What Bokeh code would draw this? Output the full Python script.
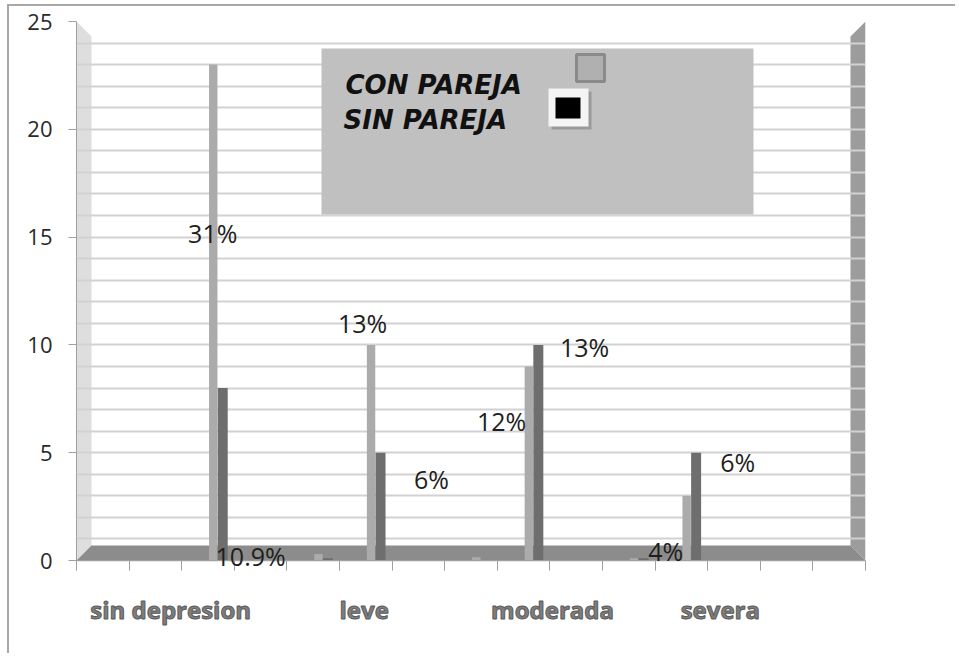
from bokeh.plotting import figure
from bokeh.models import (Range1d, FixedTicker, ColumnDataSource, Label, Span)
from bokeh.core.properties import value
from bokeh.embed import file_html
from bokeh.resources import INLINE

# ---------------- data ----------------
slots = list(range(15))                      # category slots on the depth axis
con_pareja = [0, 0, 23, 0, 0.3, 10, 0, 0.15, 9, 0, 0.1, 3, 0, 0, 0]
sin_pareja = [0, 0, 8, 0, 0.1, 5, 0, 0.0, 10, 0, 0.1, 5, 0, 0, 0]
category_names = ["sin depresion", "leve", "moderada", "severa"]
category_pos = [1.79, 5.47, 9.05, 12.24]
pct_text = ["31%", "13%", "10.9%", "6%", "12%", "13%", "4%", "6%"]
pct_x = [2.59, 5.44, 3.31, 6.75, 8.08, 9.66, 11.20, 12.57]
pct_y = [15.2, 11.0, 0.23, 3.76, 6.45, 9.88, 0.46, 4.55]
y_ticks = [0, 5, 10, 15, 20, 25]

# ---------------- geometry ----------------
OFFX, OFFY = 9, 6          # css margin + border in front of the canvas
W, H = 948, 649
LEFT, TOP = 76 - OFFX, 21 - OFFY
EXTRA = 7                  # frame overhang below zero so labels near 0 are not cut
FW, FH = 789, 539 + EXTRA
X0, Y0 = 76, 560  # page px of data origin
PXU = FW / 15.0
PYU = 539 / 25.0

def dx(px):
    return (px - X0) / PXU

def dy(py):
    return (Y0 - py) / PYU

p = figure(width=W, height=H, output_backend="svg", toolbar_location=None,
           x_range=Range1d(0, 15), y_range=Range1d(-EXTRA / PYU, 25),
           min_border_left=LEFT, min_border_top=TOP,
           min_border_right=W - LEFT - FW, min_border_bottom=H - TOP - FH)
p.outline_line_color = None
p.background_fill_color = "white"
p.border_fill_color = "white"
p.styles = {"margin-left": "7px", "margin-top": "4px",
            "border-left": "2px solid #a8a8a8", "border-top": "2px solid #a8a8a8"}

# walls (below grid)
p.patch([dx(76), dx(91), dx(91), dx(76)], [dy(21), dy(36), dy(545), dy(560)],
        fill_color="#dedede", line_color=None, level="image")
p.patch([dx(850), dx(865), dx(865), dx(850)], [dy(36), dy(21), dy(560), dy(545)],
        fill_color="#9c9c9c", line_color=None, level="image")

# grid
p.xgrid.grid_line_color = None
p.ygrid.ticker = FixedTicker(ticks=list(range(0, 26)))
p.ygrid.grid_line_color = "#d2d2d2"
p.ygrid.grid_line_width = 2

# floor
p.patch([dx(76), dx(91), dx(850), dx(865)], [dy(560), dy(545), dy(545), dy(560)],
        fill_color="#8c8c8c", line_color=None)
# base line at zero (category axis line)
p.add_layout(Span(location=0, dimension="width", line_color="#a0a0a0", line_width=1))

# bars
src = ColumnDataSource(dict(
    xc=[s + 0.60 for s in slots], xs=[s + 0.78 for s in slots],
    con=con_pareja, sin=sin_pareja))
p.vbar(x="xc", top="con", width=0.16, source=src, fill_color="#ababab", line_color=None)
p.vbar(x="xs", top="sin", width=0.19, source=src, fill_color="#6e6e6e", line_color=None)

# legend (drawn manually to mimic the original)
p.quad(left=[dx(321)], right=[dx(753)], bottom=[dy(214)], top=[dy(48)],
       fill_color="#c0c0c0", line_color=None)
p.text(x=[dx(345), dx(343)], y=[dy(84), dy(119)], text=["CON PAREJA", "SIN PAREJA"],
       text_font=value("DejaVu Sans"), text_font_style="bold italic",
       text_font_size="26px", text_color="#111111", text_align="left",
       text_baseline="alphabetic")
p.quad(left=[dx(576)], right=[dx(604)], bottom=[dy(81)], top=[dy(54)],
       fill_color="#b0b0b0", line_color="#8a8a8a", line_width=3)
p.quad(left=[dx(551)], right=[dx(591)], bottom=[dy(129)], top=[dy(91)],
       fill_color="#9a9a9a", line_color=None)
p.quad(left=[dx(548)], right=[dx(588)], bottom=[dy(126)], top=[dy(88)],
       fill_color="#f4f4f4", line_color=None)
p.quad(left=[dx(555)], right=[dx(580)], bottom=[dy(118)], top=[dy(97)],
       fill_color="#000000", line_color=None)

# data labels
for t, x, y in zip(pct_text, pct_x, pct_y):
    p.add_layout(Label(x=x, y=y, text=t, text_font="Open Sans",
                       text_font_size="25px", text_color="#1e1e1e", text_align="center",
                       text_baseline="middle"))

# y axis
ya = p.yaxis[0]
ya.ticker = FixedTicker(ticks=y_ticks)
ya.axis_line_color = "#a0a0a0"
ya.major_tick_line_color = "#a0a0a0"
ya.major_tick_out = 8
ya.major_tick_in = 0
ya.minor_tick_line_color = None
ya.major_label_text_font = "Open Sans"
ya.major_label_text_font_size = "22px"
ya.major_label_text_color = "#2a2a2a"
ya.major_label_standoff = 16

# x axis: tick marks at slots, category names below
xa = p.xaxis[0]
xa.ticker = FixedTicker(ticks=category_pos, minor_ticks=slots + [15])
xa.major_label_overrides = {pos: name for pos, name in zip(category_pos, category_names)}
xa.axis_line_color = None
xa.major_tick_line_color = None
xa.major_tick_out = 0
xa.minor_tick_line_color = "#a0a0a0"
xa.minor_tick_in = EXTRA
xa.minor_tick_out = 10 - EXTRA
xa.major_label_text_font = "Open Sans"
xa.major_label_text_font_style = "bold"
xa.major_label_text_font_size = "24px"
xa.major_label_text_color = "#7e7e7e"
xa.major_label_standoff = 22
try:
    xa.major_label_text_outline_color = "#5a5a5a"
except Exception:
    pass

open("out.html", "w").write(file_html(p, INLINE))
